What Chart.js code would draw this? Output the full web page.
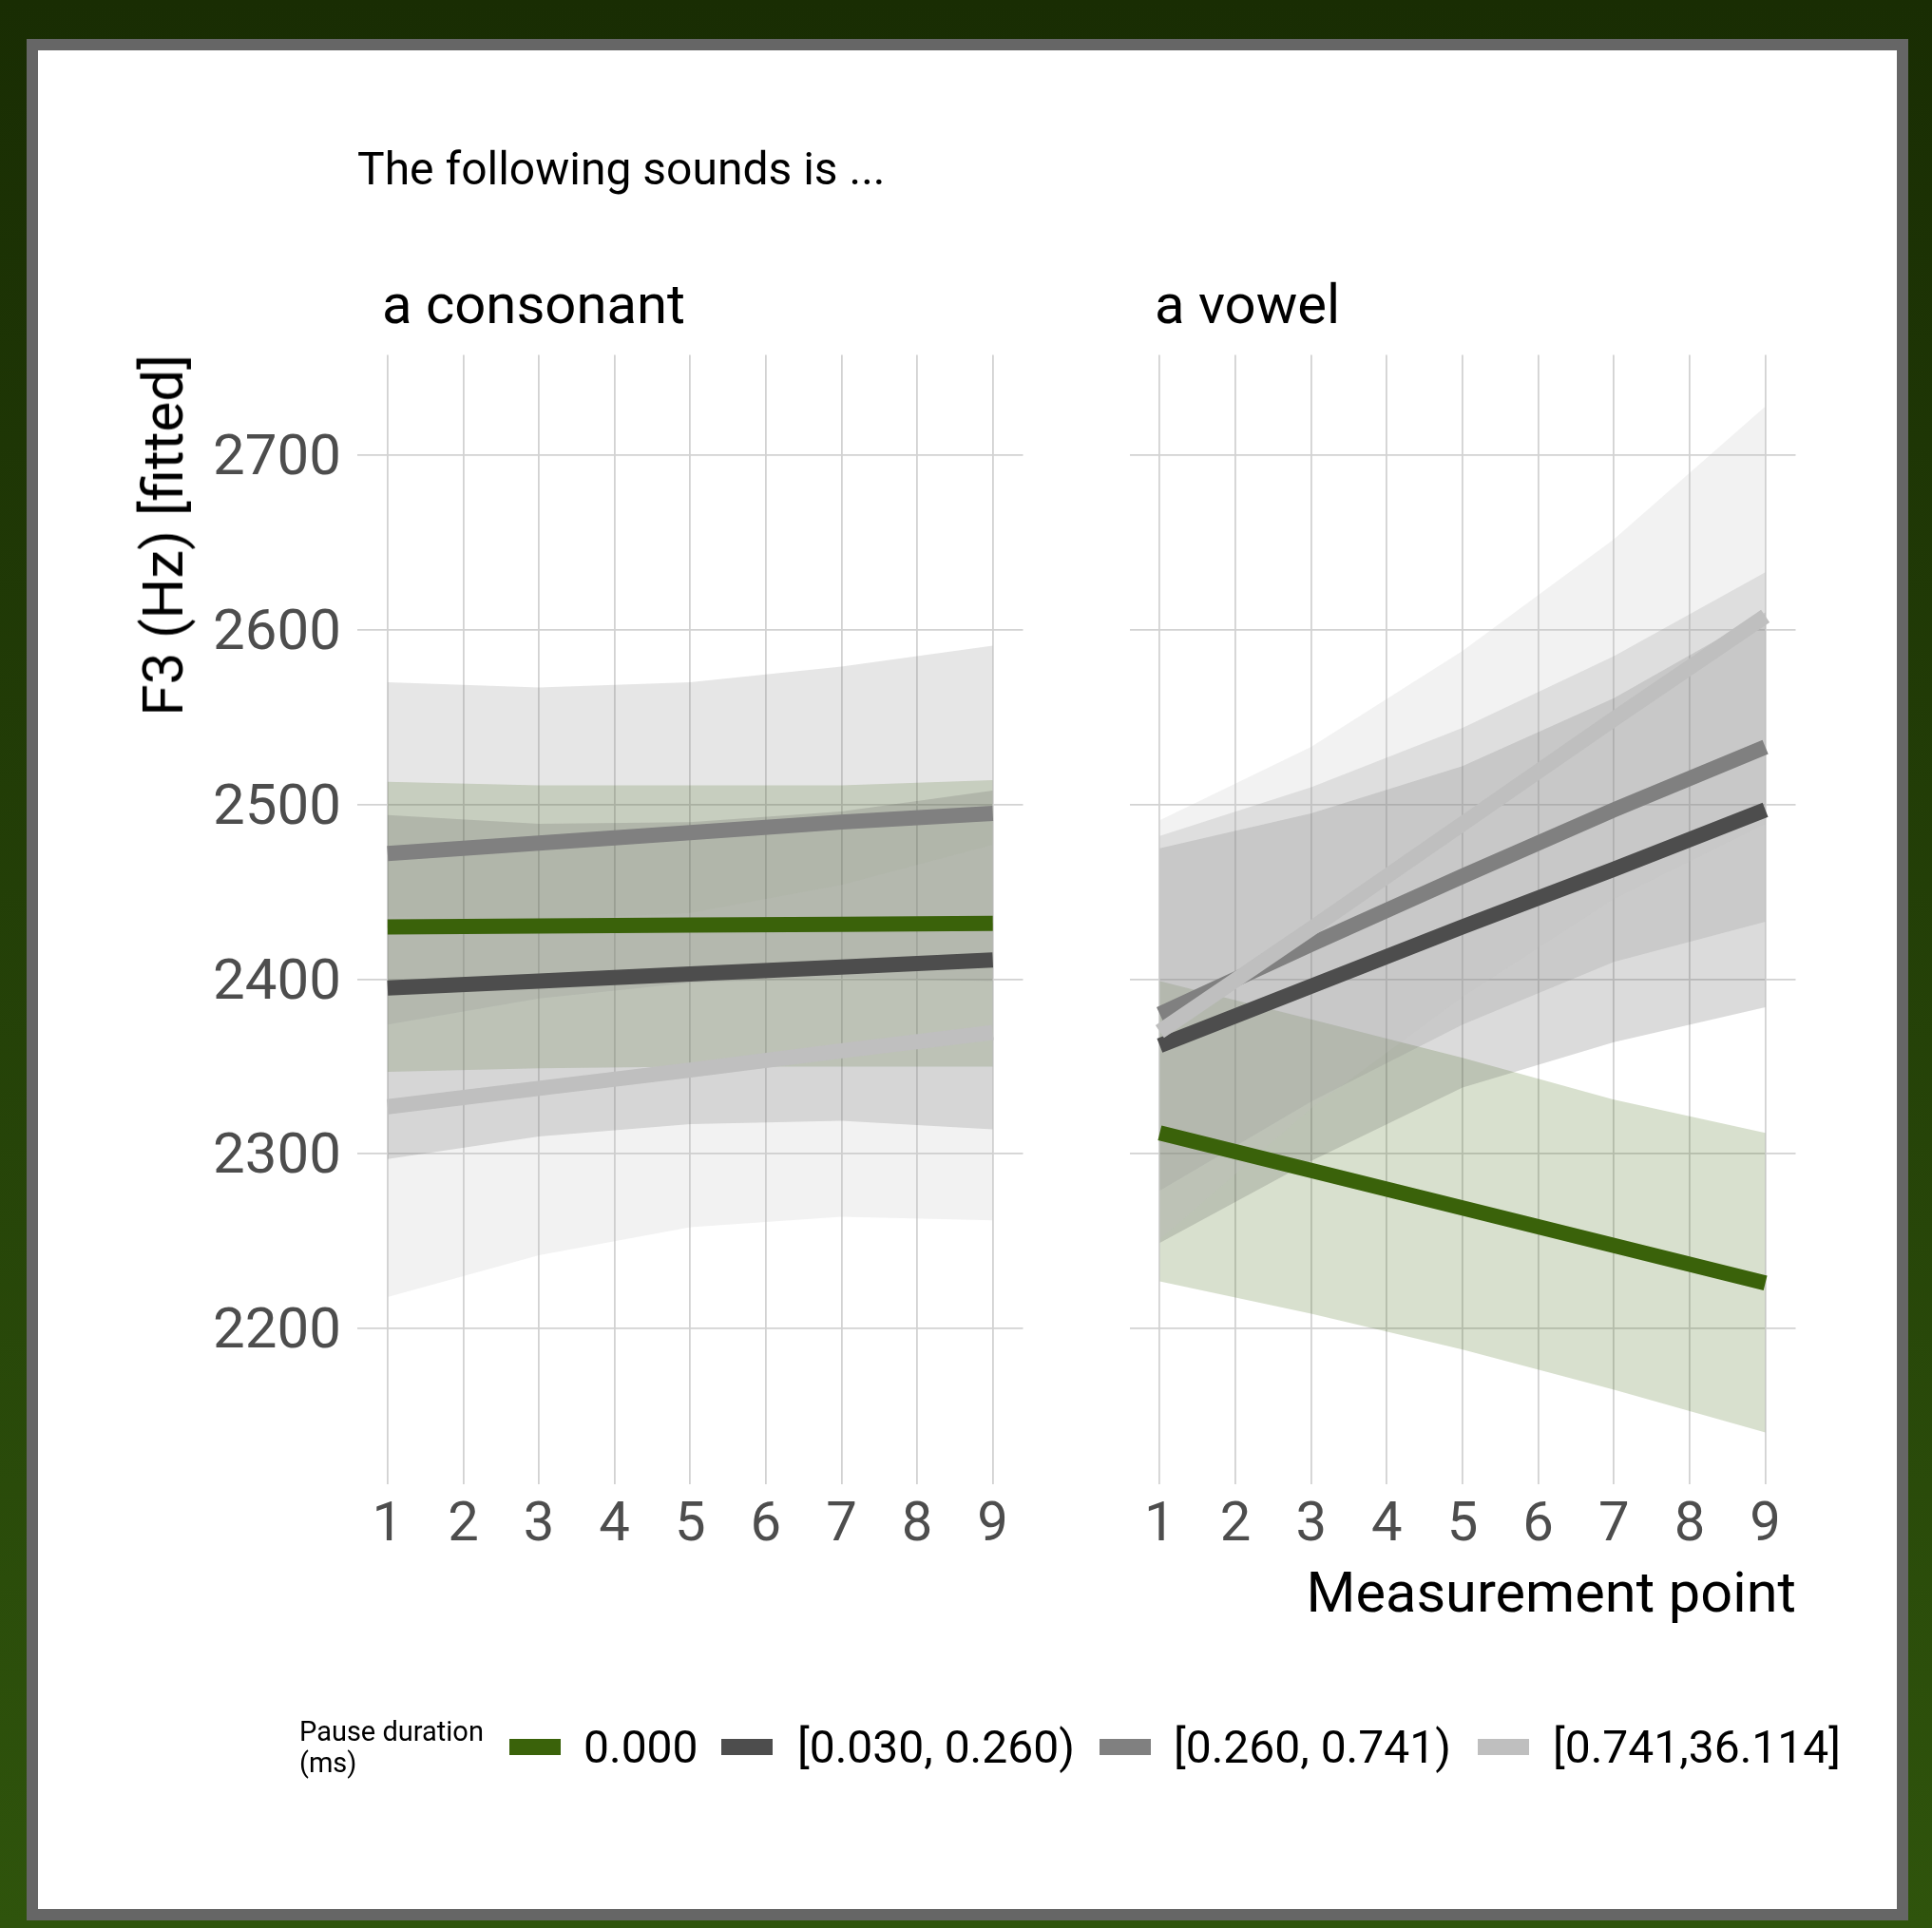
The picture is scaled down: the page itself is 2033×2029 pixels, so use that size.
<!DOCTYPE html>
<html>
<head>
<meta charset="utf-8">
<script src="https://cdn.jsdelivr.net/npm/chart.js@4.4.1/dist/chart.umd.min.js"></script>
<style>
html,body{margin:0;padding:0;}
body{position:relative;width:2033px;height:2029px;overflow:hidden;background:linear-gradient(to bottom,#192d03,#2f540c);font-family:Roboto,"Open Sans",sans-serif;}
#frame{position:absolute;left:28px;top:41px;width:1956px;height:1956px;border:12px solid #666666;background:#ffffff;}
canvas{position:absolute;left:0;top:0;}
.t{position:absolute;white-space:nowrap;line-height:1;color:#000;}
.key{position:absolute;height:17px;width:54px;}
</style>
</head>
<body>
<div id="frame"></div>
<canvas id="cLeft" width="2033" height="2029" style="width:2033px;height:2029px"></canvas>
<canvas id="cRight" width="2033" height="2029" style="width:2033px;height:2029px"></canvas>

<div class="t" style="left:376px;top:154px;font-size:48px;">The following sounds is ...</div>
<div class="t" style="left:402px;top:291px;font-size:58px;">a consonant</div>
<div class="t" style="left:1215px;top:291px;font-size:58px;">a vowel</div>
<div class="t" id="ytitle" style="font-size:60px;writing-mode:vertical-rl;transform:rotate(180deg);line-height:60px;left:142px;top:373px;">F3 (Hz) [fitted]</div>
<div class="t" style="right:143px;top:1647px;font-size:59.5px;">Measurement point</div>

<div class="t" style="left:315px;top:1806px;font-size:29px;line-height:33px;">Pause duration<br>(ms)</div>
<div id="legend"></div>

<script>
// ---------- data ----------
const xPoints = [1, 3, 5, 7, 9];
const xTicks = [1, 2, 3, 4, 5, 6, 7, 8, 9];
const yTicks = [2200, 2300, 2400, 2500, 2600, 2700];
const seriesLabels = ['0.000', '[0.030, 0.260)', '[0.260, 0.741)', '[0.741,36.114]'];
const seriesColors = ['#3a620a', '#4d4d4d', '#808080', '#bfbfbf'];
const ribbonColors = ['rgba(58,98,10,0.2)', 'rgba(77,77,77,0.2)', 'rgba(128,128,128,0.2)', 'rgba(191,191,191,0.2)'];
const facetLabels = ['a consonant', 'a vowel'];

// "a consonant" panel
const consFit0 = [2430, 2430.5, 2431, 2431.5, 2432];
const consLo0  = [2347, 2349, 2350, 2350, 2350];
const consHi0  = [2513, 2511, 2511, 2511, 2514];
const consFit1 = [2395, 2399, 2403, 2407, 2411];
const consLo1  = [2297, 2310, 2317, 2319, 2314];
const consHi1  = [2494, 2489, 2490, 2496, 2508];
const consFit2 = [2472, 2478, 2484, 2490, 2495];
const consLo2  = [2374, 2389, 2398, 2401, 2399];
const consHi2  = [2570, 2567, 2570, 2579, 2591];
const consFit3 = [2327, 2337.5, 2348, 2359, 2369.5];
const consLo3  = [2218, 2242, 2258, 2264, 2262];
const consHi3  = [2436, 2434, 2438, 2454, 2477];

// "a vowel" panel
const vowFit0 = [2312, 2290.5, 2269, 2247.5, 2226];
const vowLo0  = [2227, 2208.5, 2188, 2165, 2140.5];
const vowHi0  = [2399, 2377, 2355, 2331, 2312];
const vowFit1 = [2362, 2396, 2430, 2463, 2497];
const vowLo1  = [2249, 2296, 2338, 2364, 2384];
const vowHi1  = [2475, 2495, 2522, 2561, 2610];
const vowFit2 = [2380, 2420, 2459, 2497, 2533];
const vowLo2  = [2279, 2330, 2374, 2410, 2433];
const vowHi2  = [2482, 2510, 2544, 2585, 2633];
const vowFit3 = [2370, 2429, 2489, 2549, 2608];
const vowLo3  = [2251, 2326, 2390, 2446, 2489];
const vowHi3  = [2491, 2533, 2588, 2652, 2728];

// ---------- layout ----------
const W = 2033, H = 2029;
const AREA_TOP = 373.5, AREA_BOTTOM = 1561.7;
const X_MIN = 0.6, X_MAX = 9.4, Y_MIN = 2111, Y_MAX = 2757.5;

function pts(arr) { return xPoints.map((x, i) => ({x: x, y: arr[i]})); }

function buildDatasets(fits, los, his) {
  const ds = [];
  for (let s = 0; s < fits.length; s++) {
    // higher order is painted first: green ribbon at the bottom, light ribbon on top
    ds.push({data: pts(his[s]), borderWidth: 0, pointRadius: 0, fill: '+1',
             backgroundColor: ribbonColors[s], borderColor: 'rgba(0,0,0,0)', order: 20 - s});
    ds.push({data: pts(los[s]), borderWidth: 0, pointRadius: 0, fill: false,
             borderColor: 'rgba(0,0,0,0)', order: 20 - s});
  }
  for (let s = 0; s < fits.length; s++) {
    ds.push({label: seriesLabels[s], data: pts(fits[s]), borderColor: seriesColors[s],
             borderWidth: 16, pointRadius: 0, fill: false, tension: 0,
             borderCapStyle: 'butt', borderJoinStyle: 'round', order: 4 - s});
  }
  return ds;
}

const gridOpts = {color: '#d2d2d2', lineWidth: 1.8, drawTicks: false};

function makePanel(id, datasets, left, right, showY) {
  new Chart(document.getElementById(id), {
    type: 'line',
    data: {datasets: datasets},
    options: {
      responsive: false, animation: false, devicePixelRatio: 1,
      layout: {padding: {left: 0, right: W - right, top: AREA_TOP, bottom: H - AREA_BOTTOM - 100}},
      plugins: {legend: {display: false}, tooltip: {enabled: false}},
      scales: {
        x: {
          type: 'linear', min: X_MIN, max: X_MAX,
          afterBuildTicks: a => { a.ticks = xTicks.map(v => ({value: v})); },
          afterFit: a => { a.height = 100; },
          grid: gridOpts, border: {display: false},
          ticks: {font: {family: 'Roboto', size: 58}, color: '#4d4d4d', padding: 10,
                  maxRotation: 0, autoSkip: false, callback: v => String(v)}
        },
        y: {
          type: 'linear', min: Y_MIN, max: Y_MAX,
          afterBuildTicks: a => { a.ticks = yTicks.map(v => ({value: v})); },
          afterFit: a => { a.width = left; },
          grid: gridOpts, border: {display: false},
          ticks: {display: showY, font: {family: 'Roboto', size: 60}, color: '#4d4d4d', padding: 17,
                  labelOffset: 5, callback: v => String(v)}
        }
      }
    }
  });
}

makePanel('cLeft',
  buildDatasets([consFit0, consFit1, consFit2, consFit3], [consLo0, consLo1, consLo2, consLo3], [consHi0, consHi1, consHi2, consHi3]),
  376, 1076.5, true);
makePanel('cRight',
  buildDatasets([vowFit0, vowFit1, vowFit2, vowFit3], [vowLo0, vowLo1, vowLo2, vowLo3], [vowHi0, vowHi1, vowHi2, vowHi3]),
  1188.5, 1889.5, false);

// ---------- legend ----------
const keyLefts = [536, 759, 1157, 1555];
const labelLefts = [614, 839, 1235, 1634];
const leg = document.getElementById('legend');
seriesLabels.forEach((lab, i) => {
  const k = document.createElement('div');
  k.className = 'key';
  k.style.left = keyLefts[i] + 'px';
  k.style.top = '1830px';
  k.style.background = seriesColors[i];
  leg.appendChild(k);
  const t = document.createElement('div');
  t.className = 't';
  t.style.left = labelLefts[i] + 'px';
  t.style.top = '1815px';
  t.style.fontSize = '48px';
  t.textContent = lab;
  leg.appendChild(t);
});
</script>
</body>
</html>
